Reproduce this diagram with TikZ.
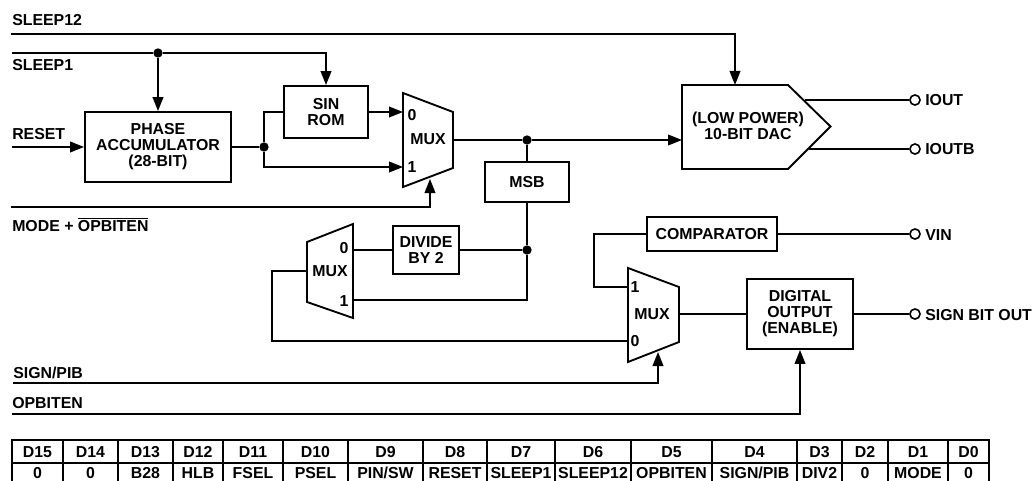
\documentclass[tikz,border=0pt]{standalone}
\usepackage{fontspec}
\setmainfont{Liberation Sans}
\usepackage{tikz}
\usetikzlibrary{arrows.meta}
\tikzset{
	wire/.style={line width=1.3pt},
	feed/.style={wire, -{Triangle[length=10.5pt,width=8pt]}},
	block/.style={draw, line width=1.4pt, align=center, inner sep=0pt, font=\fontsize{11.9}{12}\selectfont\bfseries},
	tag/.style={inner sep=0pt, font=\fontsize{11.9}{12}\selectfont\bfseries},
	dot/.style={circle, fill=black, inner sep=0pt, minimum size=7pt},
	pin/.style={circle, draw, fill=white, line width=1.2pt, inner sep=0pt, minimum size=7.6pt},
	cell/.style={draw, line width=1.2pt, inner sep=0pt, text height=8.5pt, text depth=0pt, font=\fontsize{11.9}{12}\selectfont\bfseries}
}

\begin{document}
\begin{tikzpicture}[x=0.75pt, y=-0.75pt]
	\useasboundingbox (0, 0) rectangle (1034, 481);

	\node[block, minimum width=109.5pt, minimum height=52.5pt] (phase) at (158, 147) {PHASE\\ACCUMULATOR\\(28-BIT)};
	\node[block, minimum width=63pt, minimum height=39pt] (sinrom) at (326, 112) {SIN\\ROM};
	\node[block, minimum width=63pt, minimum height=30pt] (msb) at (527, 182) {MSB};
	\node[block, minimum width=49.5pt, minimum height=36pt] (divide) at (426, 250) {DIVIDE\\BY 2};
	\node[block, minimum width=97.5pt, minimum height=25.5pt] (comparator) at (712, 234) {COMPARATOR};
	\node[block, minimum width=79.5pt, minimum height=52.5pt] (digital) at (800, 314) {DIGITAL\\OUTPUT\\(ENABLE)};

	\draw[block] (682, 85) -- (788, 85) -- (830.5, 126.5) -- (788, 169) -- (682, 169) -- cycle;
	\node[tag, align=center] (dac) at (748, 126) {(LOW POWER)\\10-BIT DAC};

	\draw[block] (403, 93) -- (453, 112) -- (453, 168) -- (403, 187) -- cycle;
	\draw[block] (353, 224) -- (353, 318) -- (307, 302) -- (307, 242) -- cycle;
	\draw[block] (628, 268) -- (679, 287) -- (679, 342) -- (628, 362) -- cycle;
	\node[tag] (muxa) at (428, 139) {MUX};
	\node[tag] (muxa0) at (412, 115) {0};
	\node[tag] (muxa1) at (412, 167) {1};
	\node[tag] (muxb) at (330, 271) {MUX};
	\node[tag] (muxb0) at (344, 248) {0};
	\node[tag] (muxb1) at (344, 301) {1};
	\node[tag] (muxc) at (652, 314) {MUX};
	\node[tag] (muxc1) at (635, 287) {1};
	\node[tag] (muxc0) at (635, 341) {0};

	\coordinate (sleeptwelve) at (11, 34);
	\coordinate (sleepone) at (12, 53);
	\coordinate (resetin) at (12, 147);
	\coordinate (modein) at (11, 207);
	\coordinate (signin) at (13, 383);
	\coordinate (opbin) at (12, 414);
	\coordinate (sleepbend) at (735, 34);
	\coordinate (daca) at (735, 85);
	\coordinate (dacb) at (682, 140);
	\coordinate (dacc) at (805, 100);
	\coordinate (dacd) at (809, 149);
	\coordinate (muxain0) at (403, 112);
	\coordinate (muxain1) at (403, 167);
	\coordinate (muxabot) at (430, 179);
	\coordinate (muxaout) at (453, 140);
	\coordinate (muxbout) at (307, 271);
	\coordinate (muxbbend) at (272, 271);
	\coordinate (muxbin0) at (353, 250);
	\coordinate (muxbin1) at (353, 300);
	\coordinate (muxcin1) at (628, 287);
	\coordinate (muxcin0) at (628, 341);
	\coordinate (muxcbot) at (658, 352);
	\coordinate (muxcout) at (679, 314);
	\coordinate (compbend) at (594, 234);

	\node[pin] (iout) at (915, 100) {};
	\node[pin] (ioutb) at (915, 149) {};
	\node[pin] (vin) at (915, 234) {};
	\node[pin] (signout) at (915, 314) {};
	\node[dot] (dotsleep) at (158, 53) {};
	\node[dot] (dotphase) at (264, 147) {};
	\node[dot] (dotmux) at (527, 140) {};
	\node[dot] (dotmsb) at (527, 250) {};

	\draw[feed] (sleeptwelve) -- (sleepbend) -- (daca);
	\draw[wire] (sleepone) -- (dotsleep);
	\draw[feed] (dotsleep) -| (sinrom.north);
	\draw[feed] (dotsleep) -- (phase.north);
	\draw[feed] (resetin) -- (phase.west);
	\draw[wire] (phase.east) -- (dotphase);
	\draw[wire] (dotphase) |- (sinrom.west);
	\draw[feed] (dotphase) |- (muxain1);
	\draw[feed] (sinrom.east) -- (muxain0);
	\draw[feed] (modein) -| (muxabot);
	\draw[wire] (muxaout) -- (dotmux);
	\draw[feed] (dotmux) -- (dacb);
	\draw[wire] (dotmux) -- (msb.north);
	\draw[wire] (msb.south) -- (dotmsb);
	\draw[wire] (divide.east) -- (dotmsb);
	\draw[wire] (muxbin0) -- (divide.west);
	\draw[wire] (dotmsb) |- (muxbin1);
	\draw[wire] (muxbout) -- (muxbbend) |- (muxcin0);
	\draw[wire] (comparator.west) -- (compbend) |- (muxcin1);
	\draw[wire] (comparator.east) -- (vin);
	\draw[wire] (muxcout) -- (digital.west);
	\draw[wire] (digital.east) -- (signout);
	\draw[feed] (signin) -| (muxcbot);
	\draw[feed] (opbin) -| (digital.south);
	\draw[wire] (dacc) -- (iout);
	\draw[wire] (dacd) -- (ioutb);

	\node[tag, anchor=base west] (labsleeptwelve) at (12, 26) {SLEEP12};
	\node[tag, anchor=base west] (labsleepone) at (12, 71) {SLEEP1};
	\node[tag, anchor=base west] (labreset) at (12, 140) {RESET};
	\node[tag, anchor=base west] (labmode) at (12, 231) {MODE + $\overline{\mbox{OPBITEN}}$};
	\node[tag, anchor=base west] (labsign) at (13, 378) {SIGN/PIB};
	\node[tag, anchor=base west] (labopb) at (12, 408) {OPBITEN};
	\node[tag, anchor=base west] (labiout) at (925, 106) {IOUT};
	\node[tag, anchor=base west] (labioutb) at (925, 155) {IOUTB};
	\node[tag, anchor=base west] (labvin) at (925, 240) {VIN};
	\node[tag, anchor=base west] (labsignout) at (925, 320) {SIGN BIT OUT};

	\foreach \a/\b/\up/\low [count=\n] in {12/63/D15/0, 63/118/D14/0, 118/173/D13/B28, 173/223/D12/HLB, 223/283/D11/FSEL, 283/348/D10/PSEL, 348/423/D9/PIN\slash SW, 423/487/D8/RESET, 487/555/D7/SLEEP1, 555/631/D6/SLEEP12, 631/712/D5/OPBITEN, 712/797/D4/SIGN\slash PIB, 797/842/D3/DIV2, 842/888/D2/0, 888/948/D1/MODE, 948/989/D0/0} {
		\node[cell, minimum width=(\b-\a)*0.75pt, minimum height=17.25pt] (up\n) at ({(\a+\b)/2}, 451.5) {\up};
		\node[cell, minimum width=(\b-\a)*0.75pt, minimum height=15pt] (low\n) at ({(\a+\b)/2}, 473) {\low};
	}
\end{tikzpicture}
\end{document}
